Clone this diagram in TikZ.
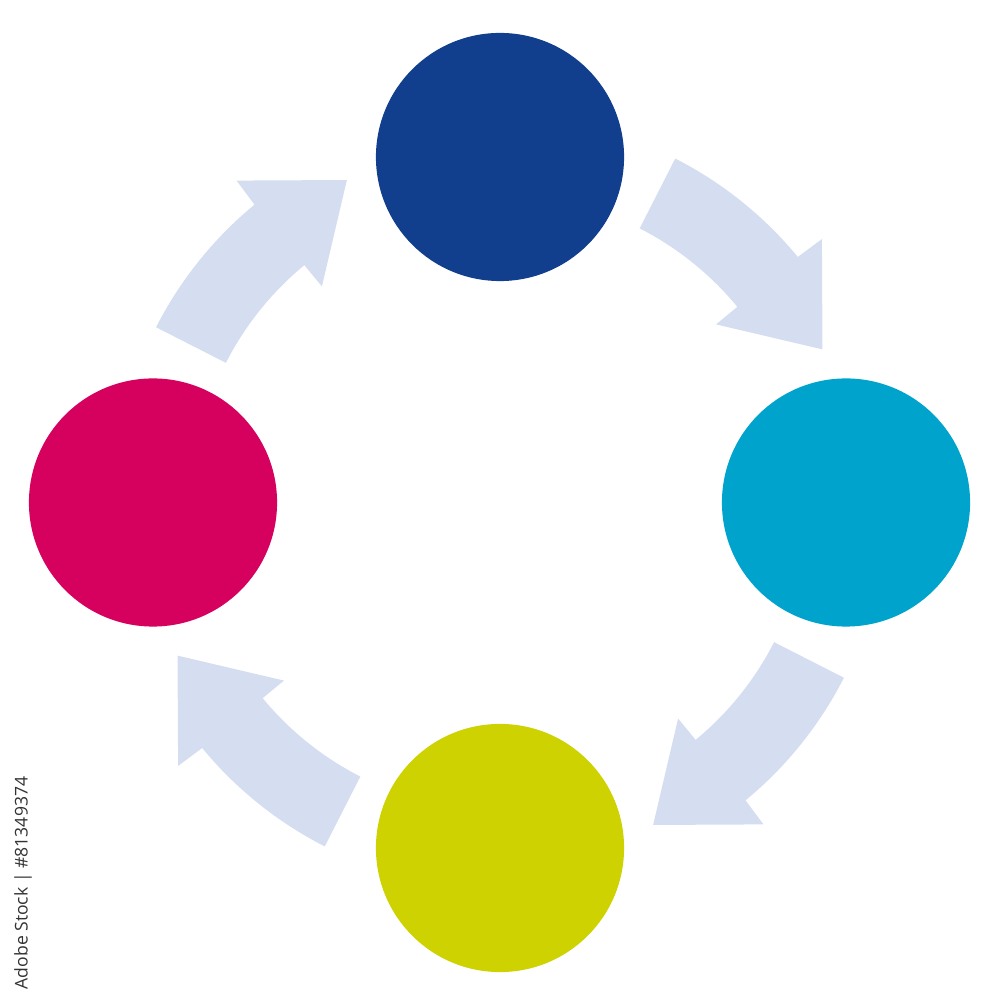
\documentclass[tikz,border=0pt]{standalone}
\usepackage{fontspec}
\setsansfont{Open Sans}

\definecolor{cycleblue}{HTML}{123F8D}
\definecolor{cyclecyan}{HTML}{00A3CC}
\definecolor{cyclelime}{HTML}{CDD200}
\definecolor{cyclerose}{HTML}{D6005F}
\definecolor{cyclearrow}{HTML}{D5DDF1}

\begin{document}
\begin{tikzpicture}[x=0.01cm,y=0.01cm,
    stage/.style={circle, minimum size=2.48cm, inner sep=0pt},
    cyclebend/.style={fill=cyclearrow}]
      \useasboundingbox (0,0) rectangle (1000,1000);

      % Draw the four stages
      \node[stage, fill=cycleblue] (top) at (500,843) {};
      \node[stage, fill=cyclecyan] (right) at (846,497.5) {};
      \node[stage, fill=cyclelime] (bottom) at (500,152) {};
      \node[stage, fill=cyclerose] (left) at (153,497.5) {};

      % Draw the curved arrows between the stages
      \foreach \a in {0,-90,-180,-270}
        \fill[cyclebend, shift={(500,497.5)}, rotate=\a]
          (63:386) arc (63:39.5:386) -- (39.3:416) -- (25.4:357)
          -- (39.5:280) -- (39.5:307.6) arc (39.5:63:307.6) -- cycle;

      % Draw the stock label
      \node[rotate=90, text=black!80, font=\sffamily\fontsize{5pt}{6pt}\selectfont,
        inner sep=0pt] (idlabel) at (23,117) {Adobe Stock | \#81349374};
  \end{tikzpicture}
\end{document}
